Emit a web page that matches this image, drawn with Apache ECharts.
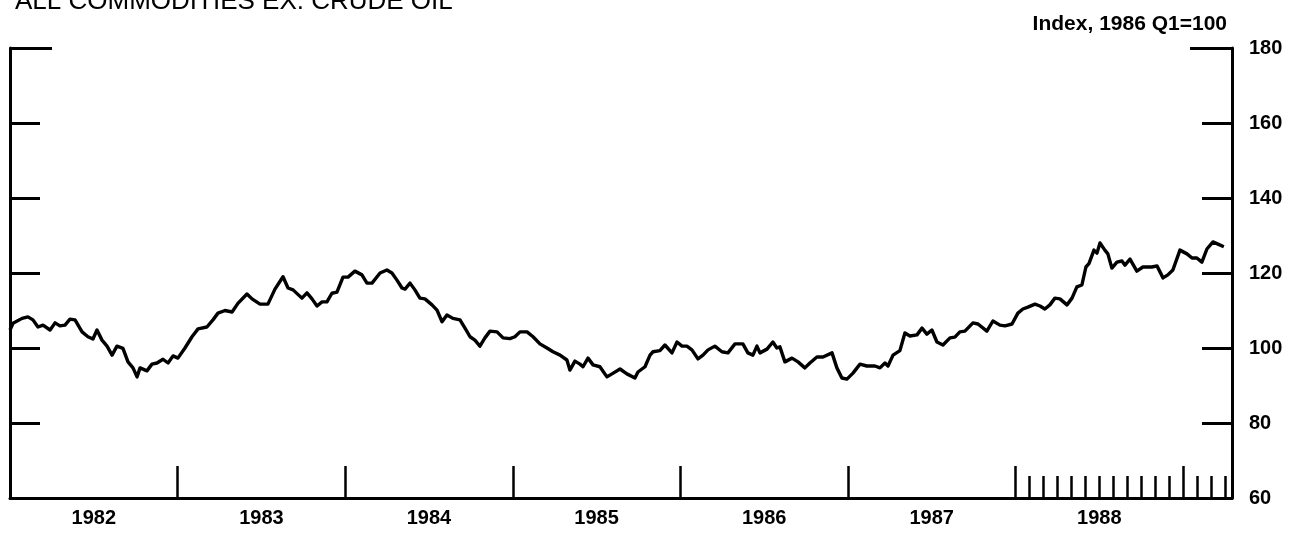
<!DOCTYPE html>
<html>
<head>
<meta charset="utf-8">
<script src="https://cdn.jsdelivr.net/npm/echarts@6/dist/echarts.min.js"></script>
<style>
html,body{margin:0;padding:0;background:#fff;}
#chart{width:1300px;height:536px;}
</style>
</head>
<body>
<div id="chart"></div>
<script>
// ---- data ----
const chartTitle = 'ALL COMMODITIES EX. CRUDE OIL';
const unitLabel = 'Index, 1986 Q1=100';
const yearLabels = ['1982', '1983', '1984', '1985', '1986', '1987', '1988'];
const xStart = 1982;
const halfMonthSteps = 175; // axis runs to mid-April 1989
const dates = [
  1982.000, 1982.018, 1982.072, 1982.107, 1982.137, 1982.167, 1982.197, 1982.239, 1982.269, 1982.298,
  1982.328, 1982.358, 1982.388, 1982.430, 1982.465, 1982.495, 1982.519, 1982.549, 1982.579, 1982.609,
  1982.638, 1982.674, 1982.704, 1982.734, 1982.758, 1982.776, 1982.817, 1982.847, 1982.877, 1982.913,
  1982.943, 1982.973, 1983.002, 1983.044, 1983.086, 1983.122, 1983.175, 1983.211, 1983.241, 1983.283,
  1983.325, 1983.360, 1983.414, 1983.444, 1983.492, 1983.539, 1983.581, 1983.629, 1983.659, 1983.689,
  1983.742, 1983.772, 1983.802, 1983.832, 1983.862, 1983.891, 1983.921, 1983.951, 1983.987, 1984.017,
  1984.058, 1984.100, 1984.130, 1984.160, 1984.208, 1984.249, 1984.279, 1984.309, 1984.339, 1984.357,
  1984.387, 1984.416, 1984.446, 1984.476, 1984.518, 1984.548, 1984.578, 1984.607, 1984.643, 1984.685,
  1984.715, 1984.745, 1984.774, 1984.804, 1984.834, 1984.864, 1984.906, 1984.942, 1984.983, 1985.013,
  1985.043, 1985.085, 1985.121, 1985.162, 1985.204, 1985.240, 1985.282, 1985.323, 1985.341, 1985.371,
  1985.401, 1985.419, 1985.449, 1985.479, 1985.520, 1985.562, 1985.592, 1985.640, 1985.681, 1985.729,
  1985.747, 1985.789, 1985.819, 1985.837, 1985.878, 1985.908, 1985.950, 1985.980, 1986.010, 1986.039,
  1986.069, 1986.105, 1986.135, 1986.165, 1986.206, 1986.248, 1986.284, 1986.326, 1986.373, 1986.403,
  1986.433, 1986.457, 1986.475, 1986.517, 1986.552, 1986.576, 1986.594, 1986.624, 1986.666, 1986.702,
  1986.743, 1986.773, 1986.815, 1986.851, 1986.905, 1986.934, 1986.964, 1986.994, 1987.030, 1987.072,
  1987.113, 1987.161, 1987.191, 1987.221, 1987.239, 1987.269, 1987.310, 1987.340, 1987.370, 1987.412,
  1987.442, 1987.471, 1987.501, 1987.531, 1987.567, 1987.609, 1987.638, 1987.668, 1987.698, 1987.746,
  1987.776, 1987.829, 1987.865, 1987.907, 1987.937, 1987.979, 1988.014, 1988.044, 1988.074, 1988.116,
  1988.146, 1988.175, 1988.205, 1988.235, 1988.265, 1988.307, 1988.337, 1988.366, 1988.396, 1988.420,
  1988.438, 1988.468, 1988.486, 1988.504, 1988.533, 1988.551, 1988.575, 1988.605, 1988.635, 1988.653,
  1988.683, 1988.724, 1988.760, 1988.814, 1988.844, 1988.880, 1988.909, 1988.939, 1988.981, 1989.023,
  1989.053, 1989.082, 1989.112, 1989.142, 1989.178, 1989.208, 1989.243
];
const values = [
  104.8, 106.6, 107.9, 108.3, 107.5, 105.6, 106.1, 104.8, 106.7, 105.9,
  106.1, 107.7, 107.5, 104.3, 103.0, 102.4, 104.8, 102.1, 100.5, 98.1,
  100.5, 99.9, 96.3, 94.7, 92.3, 94.7, 93.9, 95.7, 96.0, 97.0,
  96.0, 97.9, 97.3, 100.0, 103.0, 105.1, 105.6, 107.5, 109.3, 110.0,
  109.6, 111.9, 114.4, 113.1, 111.7, 111.7, 115.7, 119.0, 116.0, 115.5,
  113.3, 114.7, 113.1, 111.2, 112.3, 112.3, 114.6, 114.9, 118.9, 118.9,
  120.5, 119.5, 117.3, 117.3, 120.0, 120.8, 120.0, 118.1, 116.0, 115.7,
  117.3, 115.5, 113.3, 113.1, 111.5, 110.1, 107.0, 108.8, 107.9, 107.5,
  105.3, 103.0, 102.1, 100.5, 102.7, 104.5, 104.3, 102.7, 102.5, 103.0,
  104.3, 104.3, 103.0, 101.1, 100.0, 99.0, 98.1, 96.8, 94.1, 96.5,
  95.7, 95.0, 97.3, 95.5, 95.0, 92.3, 93.1, 94.4, 93.1, 92.0,
  93.6, 95.0, 98.1, 99.0, 99.3, 100.8, 98.7, 101.6, 100.5, 100.5,
  99.5, 97.1, 98.1, 99.5, 100.5, 99.0, 98.7, 101.1, 101.1, 98.7,
  98.1, 100.5, 98.7, 99.7, 101.6, 100.0, 100.3, 96.3, 97.3, 96.3,
  94.7, 96.0, 97.6, 97.6, 98.7, 94.7, 92.0, 91.7, 93.3, 95.7,
  95.2, 95.2, 94.7, 96.0, 95.2, 98.1, 99.3, 104.0, 103.2, 103.5,
  105.3, 103.7, 104.8, 101.6, 100.8, 102.7, 102.9, 104.3, 104.5, 106.7,
  106.4, 104.5, 107.2, 106.1, 105.9, 106.4, 109.3, 110.4, 110.9, 111.7,
  111.2, 110.4, 111.5, 113.3, 113.1, 111.5, 113.3, 116.3, 116.8, 121.6,
  122.5, 126.1, 125.3, 128.0, 126.1, 125.1, 121.3, 122.9, 123.2, 122.1,
  123.7, 120.5, 121.6, 121.6, 121.9, 118.7, 119.5, 120.8, 126.1, 125.1,
  124.0, 124.0, 122.9, 126.4, 128.3, 127.7, 127.0
];

// ---- chart ----
const FONT = '"Liberation Sans", Arial, Helvetica, sans-serif';
const halfMonths = Array.from({length: halfMonthSteps + 1}, (_, i) => String(i));
const seriesData = dates.map((d, i) => [d, values[i]]);
const black = '#000';

const chart = echarts.init(document.getElementById('chart'), null, {renderer: 'canvas'});
chart.setOption({
  animation: false,
  backgroundColor: '#fff',
  title: [
    {text: chartTitle, left: 10, top: -16,
     textStyle: {fontFamily: FONT, fontSize: 26, fontWeight: 'normal', color: black}},
    {text: unitLabel, right: 68, top: 9,
     textStyle: {fontFamily: FONT, fontSize: 21, fontWeight: 'bold', color: black}}
  ],
  grid: {left: 10, right: 68, top: 48, bottom: 38, containLabel: false},
  xAxis: [
    { // year ticks + labels
      type: 'category', data: halfMonths, boundaryGap: false, position: 'bottom',
      axisLine: {show: true, lineStyle: {color: black, width: 3}},
      axisTick: {show: true, inside: true, length: 32, lineStyle: {color: black, width: 2.5},
                 interval: (i) => i % 24 === 0 && i > 0},
      axisLabel: {show: true, margin: 10, interval: (i) => i % 24 === 12,
                  formatter: (v, i) => yearLabels[(i - 12) / 24] || '',
                  fontFamily: FONT, fontSize: 20, fontWeight: 'bold', color: black},
      splitLine: {show: false}
    },
    { // monthly ticks in final stretch
      type: 'category', data: halfMonths, boundaryGap: false, position: 'bottom',
      axisLine: {show: false},
      axisTick: {show: true, inside: true, length: 22, lineStyle: {color: black, width: 2.5},
                 interval: (i) => i >= 146 && i % 2 === 0 && i % 24 !== 0},
      axisLabel: {show: false},
      splitLine: {show: false}
    },
    { // data axis
      type: 'value', min: xStart, max: xStart + halfMonthSteps / 24, show: false
    }
  ],
  yAxis: [
    {
      type: 'value', position: 'left', min: 60, max: 180, interval: 20,
      axisLine: {show: true, lineStyle: {color: black, width: 3}},
      axisTick: {show: true, inside: true, length: 30, lineStyle: {color: black, width: 3}},
      axisLabel: {show: false}, splitLine: {show: false}
    },
    {
      type: 'value', position: 'right', min: 60, max: 180, interval: 20,
      axisLine: {show: true, lineStyle: {color: black, width: 3}},
      axisTick: {show: true, inside: true, length: 30, lineStyle: {color: black, width: 3}},
      axisLabel: {show: true, margin: 17, fontFamily: FONT, fontSize: 20, fontWeight: 'bold', color: black},
      splitLine: {show: false}
    },
    {
      type: 'value', position: 'left', min: 60, max: 180, interval: 120,
      axisLine: {show: false},
      axisTick: {show: true, inside: true, length: 42, lineStyle: {color: black, width: 3}},
      axisLabel: {show: false}, splitLine: {show: false}
    },
    {
      type: 'value', position: 'right', min: 60, max: 180, interval: 120,
      axisLine: {show: false},
      axisTick: {show: true, inside: true, length: 42, lineStyle: {color: black, width: 3}},
      axisLabel: {show: false}, splitLine: {show: false}
    }
  ],
  series: [{
    type: 'line', xAxisIndex: 2, yAxisIndex: 0,
    data: seriesData, showSymbol: false, symbol: 'none', smooth: false,
    lineStyle: {color: black, width: 3.4, join: 'round'},
    z: 5
  }]
});
</script>
</body>
</html>
